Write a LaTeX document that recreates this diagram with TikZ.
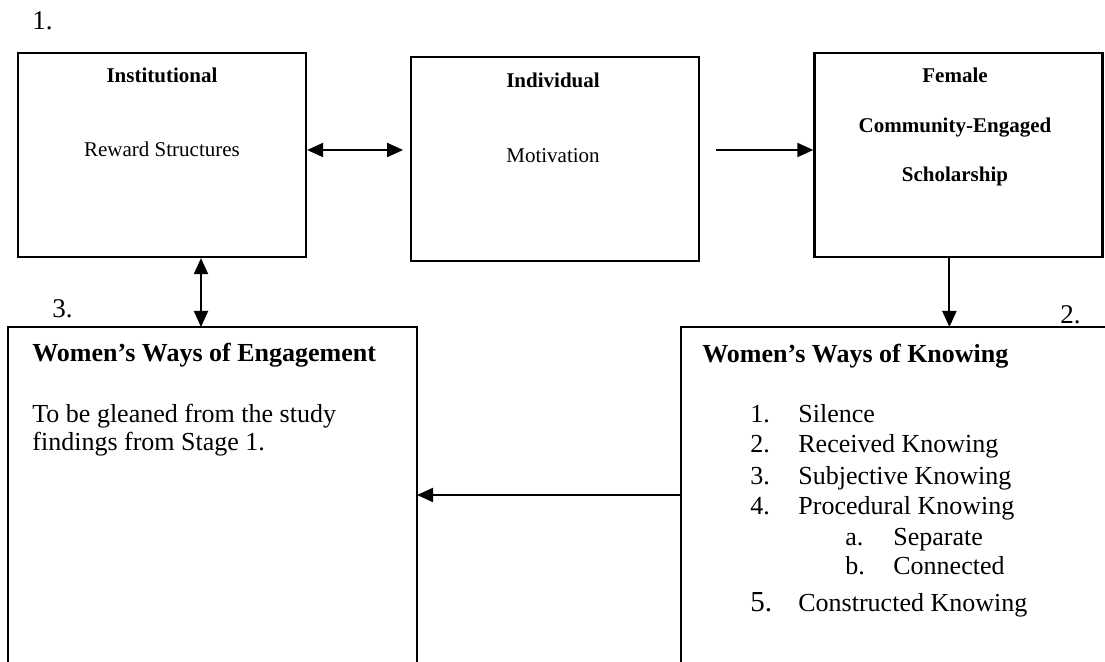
\documentclass[tikz,border=0pt]{standalone}
\usepackage{fontspec}
\setmainfont{Liberation Serif}
\usetikzlibrary{arrows.meta, positioning}
\tikzset{
    box/.style = {
        rectangle, draw, line width=1.1pt,
        minimum width=144pt,
        minimum height=102pt
    },
    openbox/.style = {
        rectangle, inner sep=0pt, outer sep=0pt,
        minimum height=180pt,
        anchor=north west
    },
    frame/.style = {
        line width=1.3pt
    },
    head/.style = {
        font=\fontsize{10.5}{12}\selectfont\bfseries,
        anchor=base, inner sep=0pt
    },
    body/.style = {
        font=\fontsize{10.5}{12}\selectfont,
        anchor=base, inner sep=0pt
    },
    bighead/.style = {
        font=\fontsize{13}{12.5}\selectfont\bfseries,
        anchor=base west, inner sep=0pt
    },
    bigbody/.style = {
        font=\fontsize{13}{14}\selectfont,
        anchor=base west, inner sep=0pt, align=left
    },
    stage/.style = {
        font=\fontsize{13.5}{14}\selectfont,
        anchor=base west, inner sep=0pt
    },
    arrow/.style = {
        -{Triangle[length=8pt,width=7pt]}, line width=1pt
    },
    dblarrow/.style = {
        {Triangle[length=8pt,width=7pt]}-{Triangle[length=8pt,width=7pt]}, line width=1pt
    }
}
\newcommand{\itemno}[1]{\makebox[24pt][l]{#1}}

\begin{document}
\begin{tikzpicture}[x=0.5pt, y=-0.5pt]

\useasboundingbox (0,0) rectangle (1105,662);

% top row
\node[box] (inst) at (162,155) {};
\node[box, right=51.5pt of inst, yshift=-2pt] (indiv) {};
\node[box, right=56.5pt of indiv, yshift=2pt] (female) {};

\node[head] (insttitle) at (162,83) {Institutional};
\node[body] (reward) at (162,157) {Reward Structures};
\node[head] (indivtitle) at (553,88) {Individual};
\node[body] (motiv) at (553,163) {Motivation};
\node[head] (femtitle) at (955,83) {Female};
\node[head] (femcom) at (955,133) {Community-Engaged};
\node[head] (femschol) at (955,182) {Scholarship};

% bottom row (open at the page edge)
\node[openbox, minimum width=204.5pt] (engage) at (8,327) {};
\node[openbox, minimum width=220pt] (knowing) at (681,327) {};
\draw[frame] (engage.south west) -- (engage.north west) -- (engage.north east) -- (engage.south east);
\draw[frame] (knowing.south west) -- (knowing.north west) -- (knowing.north east);

\node[bighead] (engtitle) at (32,362) {Women’s Ways of Engagement};
\node[bigbody] (engtext) at (32,451) {To be gleaned from the study\\findings from Stage 1.};

\node[bighead] (knowtitle) at (702,363) {Women’s Ways of Knowing};
\node[bigbody] (kone) at (750,423) {\itemno{1.}Silence};
\node[bigbody] (ktwo) at (750,453) {\itemno{2.}Received Knowing};
\node[bigbody] (kthree) at (750,485) {\itemno{3.}Subjective Knowing};
\node[bigbody] (kfour) at (750,515) {\itemno{4.}Procedural Knowing};
\node[bigbody] (kfoura) at (845,546) {\itemno{a.}Separate};
\node[bigbody] (kfourb) at (845,575) {\itemno{b.}Connected};
\node[bigbody] (kfive) at (750,612) {\itemno{\fontsize{14.5}{15}\selectfont 5.}Constructed Knowing};

% stage numbers
\node[stage] (stageone) at (32,30) {1.};
\node[stage] (stagetwo) at (1060,324) {2.};
\node[stage] (stagethree) at (52,318) {3.};

% connectors
\draw[dblarrow, shorten >=3.5pt] ([yshift=2.5pt]inst.east) -- ([yshift=2.5pt]inst.east -| indiv.west);
\draw[arrow, shorten <=8pt] ([yshift=2.5pt]female.west -| indiv.east) -- ([yshift=2.5pt]female.west);
\draw[arrow] ([xshift=-4.5pt]female.south) -- ([xshift=-4.5pt]female.south |- knowing.north);
\draw[dblarrow] ([xshift=19.5pt]inst.south) -- ([xshift=19.5pt]inst.south |- engage.north);
\draw[arrow] ([yshift=-84pt]knowing.north west) -- ([yshift=-84pt]engage.north east);

\end{tikzpicture}
\end{document}
